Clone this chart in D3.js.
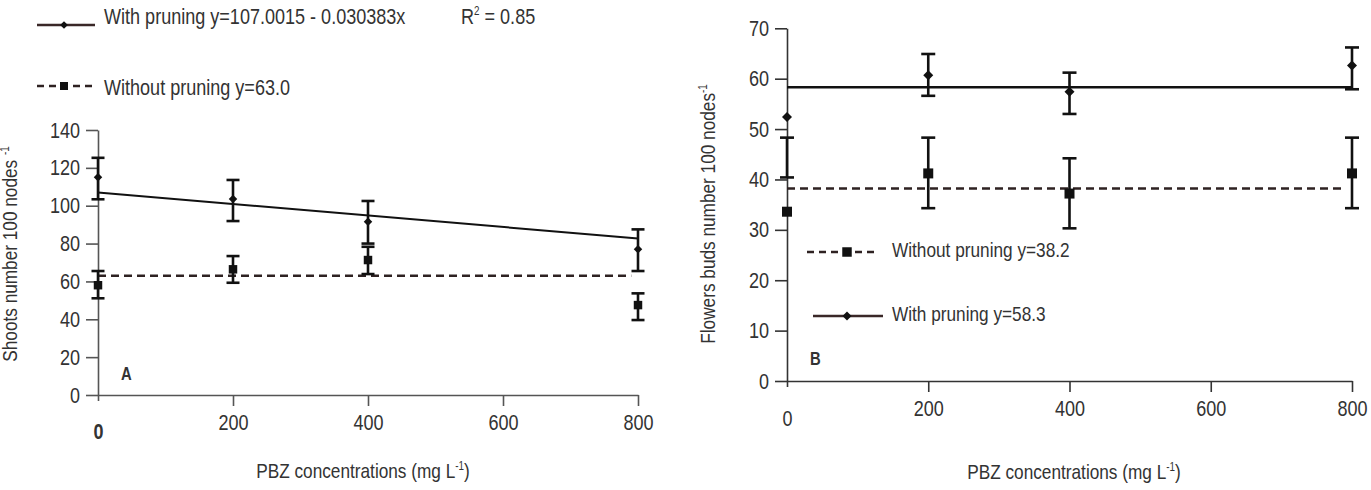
<!DOCTYPE html>
<html>
<head>
<meta charset="utf-8">
<title>PBZ pruning</title>
<script src="https://d3js.org/d3.v7.min.js"></script>
<style>
  body { margin: 0; background: #fff; }
  svg text { font-family: "Liberation Sans", Arial, sans-serif; fill: #333; }
</style>
</head>
<body>
<script>
// PBZ doses (mg L-1) and axis ticks
var doses = [0, 200, 400, 800];
var xTicks = [0, 200, 400, 600, 800];
var shootsTicks = [0, 20, 40, 60, 80, 100, 120, 140];
var budsTicks = [0, 10, 20, 30, 40, 50, 60, 70];

// panel A - shoots number 100 nodes-1
var shootsWith = [115, 103.5, 91.5, 77];
var shootsWithLo = [103.4, 91.9, 80, 65.5];
var shootsWithHi = [125.3, 113.6, 102.5, 87.5];
var shootsWithout = [58, 66.4, 71.3, 47.5];
var shootsWithoutLo = [51.1, 59.3, 63.9, 39.6];
var shootsWithoutHi = [65.5, 73.4, 78.3, 53.7];
var shootsFit = [107.0015, -0.030383];   // intercept, slope
var shootsMean = 63.0;

// panel B - flower buds number 100 nodes-1
var budsWith = [52.4, 60.7, 57.4, 62.6];
var budsWithLo = [null, 56.6, 53.0, 57.9];
var budsWithHi = [null, 64.9, 61.2, 66.2];
var budsWithout = [33.6, 41.2, 37.2, 41.2];
var budsWithoutLo = [40.4, 34.3, 30.3, 34.3];
var budsWithoutHi = [48.3, 48.3, 44.2, 48.3];
var budsWithMean = 58.3;
var budsWithoutMean = 38.2;

var svg = d3.select("body").append("svg")
    .attr("width", 1371)
    .attr("height", 490);

var ink = "#111";
var dashInk = "#2e2222";

function diamond(g, x, y, s) {
    g.append("path")
        .attr("d", d3.symbol(d3.symbolSquare, s)())
        .attr("transform", "translate(" + x + "," + y + ") rotate(45)")
        .attr("fill", ink);
}
function square(g, x, y, s) {
    g.append("path")
        .attr("d", d3.symbol(d3.symbolSquare, s)())
        .attr("transform", "translate(" + x + "," + y + ")")
        .attr("fill", ink);
}

function drawPanel(p) {
    var g = svg.append("g");
    var x = d3.scaleLinear().domain([0, 800]).range(p.xr);
    var y = d3.scaleLinear().domain(p.yd).range(p.yr);

    // axes
    var ax = g.append("g")
        .attr("transform", "translate(0," + p.yr[0] + ")")
        .call(d3.axisBottom(x).tickValues(xTicks).tickSize(11).tickPadding(8).tickSizeOuter(0));
    ax.selectAll("text").filter(function(d){ return d === 0; })
        .attr("dy", p.zeroDy)
        .style("font-weight", p.zeroBold ? "bold" : null);
    ax.selectAll(".tick line").filter(function(d){ return d === 0; }).attr("y2", 6);

    var ay = g.append("g")
        .attr("transform", "translate(" + p.xr[0] + ",0)")
        .call(d3.axisLeft(y).tickValues(p.yTicks).tickSize(12).tickPadding(6).tickSizeOuter(0));

    [ax, ay].forEach(function(a) {
        a.select(".domain").attr("stroke", p.axisInk).attr("stroke-width", 1.6);
        a.selectAll(".tick line").attr("stroke", p.axisInk).attr("stroke-width", 1.6);
        a.selectAll("text").style("font-size", "22px").attr("fill", "#333")
            .style("font-family", null);
    });

    // axis titles
    var xt = g.append("text")
        .attr("x", p.xTitle[0]).attr("y", p.xTitle[1])
        .attr("text-anchor", "middle")
        .style("font-size", "21px")
        .text("PBZ concentrations (mg L");
    xt.append("tspan").attr("dy", -8).style("font-size", "12px").text("-1");
    xt.append("tspan").attr("dy", 8).text(")");

    var yt = g.append("text")
        .attr("transform", "translate(" + p.yTitle[0] + "," + p.yTitle[1] + ") rotate(-90)")
        .attr("text-anchor", "middle")
        .style("font-size", "21px")
        .text(p.yLabel);
    yt.append("tspan").attr("dy", -8).style("font-size", "12px").text("-1");

    g.append("text")
        .attr("x", p.letter[0]).attr("y", p.letter[1])
        .style("font-size", "18px").style("font-weight", "bold")
        .text(p.letterText);

    // fitted lines
    g.append("line")
        .attr("x1", x(0)).attr("x2", x(790))
        .attr("y1", y(p.dashedMean)).attr("y2", y(p.dashedMean))
        .attr("stroke", dashInk).attr("stroke-width", 2.6)
        .attr("stroke-dasharray", "8,5");
    g.append("line")
        .attr("x1", x(0)).attr("x2", x(800))
        .attr("y1", y(p.solid(0))).attr("y2", y(p.solid(800)))
        .attr("stroke", ink).attr("stroke-width", p.solidW);

    // error bars and points
    function series(vals, lo, hi, marker, ms) {
        doses.forEach(function(d, i) {
            var cx = x(d);
            if (lo[i] != null) {
                g.append("line").attr("x1", cx).attr("x2", cx)
                    .attr("y1", y(lo[i])).attr("y2", y(hi[i]))
                    .attr("stroke", ink).attr("stroke-width", 2.6);
                [lo[i], hi[i]].forEach(function(v) {
                    g.append("line").attr("x1", cx - p.cap / 2).attr("x2", cx + p.cap / 2)
                        .attr("y1", y(v)).attr("y2", y(v))
                        .attr("stroke", ink).attr("stroke-width", 2.6);
                });
            }
            marker(g, cx, y(vals[i]), ms);
        });
    }
    series(p.without, p.withoutLo, p.withoutHi, square, p.sq);
    series(p.with, p.withLo, p.withHi, diamond, p.dia);
}

drawPanel({
    xr: [98, 638], yd: [0, 140], yr: [395, 130], yTicks: shootsTicks,
    axisInk: "#555", zeroDy: "1.15em", zeroBold: true,
    xTitle: [363, 478], yTitle: [17, 254],
    yLabel: "Shoots number 100 nodes ",
    letter: [121, 380], letterText: "A",
    dashedMean: shootsMean,
    solid: function(d) { return shootsFit[0] + shootsFit[1] * d; }, solidW: 2,
    with: shootsWith, withLo: shootsWithLo, withHi: shootsWithHi,
    without: shootsWithout, withoutLo: shootsWithoutLo, withoutHi: shootsWithoutHi,
    cap: 13, sq: 72, dia: 36
});

drawPanel({
    xr: [787, 1352], yd: [0, 70], yr: [381, 28.3], yTicks: budsTicks,
    axisInk: "#333", zeroDy: "1.2em", zeroBold: false,
    xTitle: [1074, 479], yTitle: [715, 214],
    yLabel: "Flowers buds number 100 nodes",
    letter: [810, 365], letterText: "B",
    dashedMean: budsWithoutMean,
    solid: function() { return budsWithMean; }, solidW: 2.6,
    with: budsWith, withLo: budsWithLo, withHi: budsWithHi,
    without: budsWithout, withoutLo: budsWithoutLo, withoutHi: budsWithoutHi,
    cap: 14, sq: 100, dia: 50
});

// legends
function legendItem(x1, x2, mx, ly, dashed, marker, ms, tx, ty, label, fs) {
    svg.append("line").attr("x1", x1).attr("x2", x2).attr("y1", ly).attr("y2", ly)
        .attr("stroke", dashed ? dashInk : "#3a2828").attr("stroke-width", dashed ? 2.6 : 2.4)
        .attr("stroke-dasharray", dashed ? "7,5" : null);
    marker(svg, mx, ly, ms);
    return svg.append("text").attr("x", tx).attr("y", ty).style("font-size", fs).text(label);
}
legendItem(37, 95, 64, 25, false, diamond, 30, 104, 24, "With pruning y=107.0015 - 0.030383x", "22px");
var r2 = svg.append("text").attr("x", 461).attr("y", 24).style("font-size", "22px").text("R");
r2.append("tspan").attr("dy", -9).style("font-size", "12px").text("2");
r2.append("tspan").attr("dy", 9).text(" = 0.85");
legendItem(37, 92, 64, 86, true, square, 64, 104, 95, "Without pruning y=63.0", "22px");

legendItem(807, 879, 847, 252, true, square, 90, 892, 257, "Without pruning y=38.2", "21px");
legendItem(813, 883, 847, 316, false, diamond, 40, 892, 321, "With pruning y=58.3", "21px");

// condensed look of the original type: squeeze every label horizontally
svg.selectAll("text").each(function() {
    var w = this.getComputedTextLength();
    this.setAttribute("textLength", (w * 0.82).toFixed(1));
    this.setAttribute("lengthAdjust", "spacingAndGlyphs");
});
</script>
</body>
</html>
